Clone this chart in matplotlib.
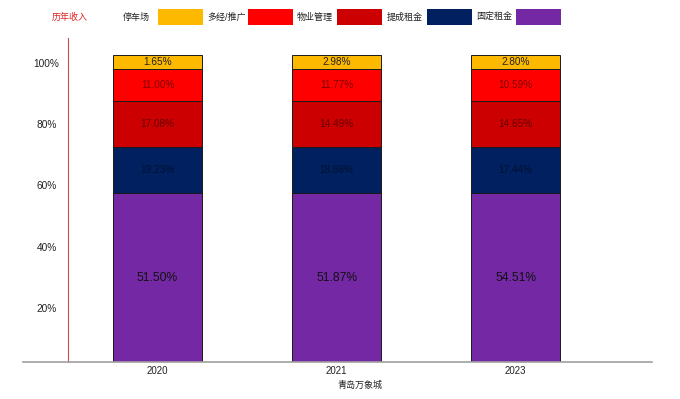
import matplotlib
matplotlib.use('Agg')
import matplotlib.pyplot as plt
from matplotlib.patches import Rectangle

plt.rcParams['font.family'] = ['Liberation Sans', 'Noto Sans CJK SC', 'DejaVu Sans']

# data
years = ['2020', '2021', '2023']
series = ['固定租金', '提成租金', '物业管理', '多经/推广', '停车场']   # bottom -> top
colors = ['#7428A4', '#002060', '#CC0000', '#FF0000', '#FDB900']
# segment heights as drawn in the picture (same for every year)
shown = [54.9, 15.2, 14.9, 10.3, 4.7]
# the printed percentages
guding = [51.50, 51.87, 54.51]
ticheng = [19.23, 18.88, 17.44]
wuye = [17.08, 14.49, 14.65]
duojing = [11.00, 11.77, 10.59]
parking = [1.65, 2.98, 2.80]
labels = [guding, ticheng, wuye, duojing, parking]
yticks = [17.5, 37.5, 57.5, 77.5, 97.5]
yticklabels = ['20%', '40%', '60%', '80%', '100%']

W, H = 680, 399
fig = plt.figure(figsize=(W / 100, H / 100), dpi=100)
ax = fig.add_axes([68 / W, 1 - 362 / H, (652 - 68) / W, (362 - 38) / H])

x = range(len(years))
bottom = [0.0] * len(years)
for k in range(len(series)):
    h = [shown[k]] * len(years)
    ax.bar(x, h, 0.5, bottom=bottom, color=colors[k], edgecolor='#1a1a1a', linewidth=0.7, zorder=2)
    for i in range(len(years)):
        yc = bottom[i] + h[i] / 2
        if k == 0:
            ax.text(i, yc, '%.2f%%' % labels[k][i], ha='center', va='center', fontsize=8.7, color='#111111', zorder=3)
        elif k == 4:
            ax.text(i, yc, '%.2f%%' % labels[k][i], ha='center', va='center', fontsize=7.2, color='#222222', zorder=3)
        else:
            ax.text(i, yc, '%.2f%%' % labels[k][i], ha='center', va='center', fontsize=7.2, color='black', alpha=0.5, zorder=3)
    bottom = [bottom[i] + h[i] for i in range(len(years))]

ax.set_xlim(-0.5, 2.761)
ax.set_ylim(0, 105.5)
ax.set_xticks(list(x))
ax.set_xticklabels(years)
ax.set_yticks(yticks)
ax.set_yticklabels(yticklabels)
ax.tick_params(axis='x', length=0, pad=3, labelsize=7, labelcolor='#222222')
ax.tick_params(axis='y', length=0, pad=15.5, labelsize=7.3, labelcolor='#222222')
for t in ax.get_yticklabels():
    t.set_horizontalalignment('center')
ax.set_xlabel('青岛万象城', fontsize=6.5, color='#222222', labelpad=3)

for s in ['top', 'right']:
    ax.spines[s].set_visible(False)
ax.spines['left'].set_color('#c0504d')
ax.spines['left'].set_linewidth(0.8)
ax.spines['bottom'].set_visible(False)
# grey base line reaching past the red axis
ax.axhline(0, xmin=-(68 - 23) / (652 - 68), xmax=1, color='#a0a0a0', linewidth=1.2, clip_on=False, zorder=4)

# legend drawn by hand at the top
fig.text(52 / W, 1 - 17 / H, '历年收入', color='#e02020', fontsize=6.5, ha='left', va='center')
legend_order = [4, 3, 2, 1, 0]
text_x = [123, 207, 297, 387, 476]
for j, k in enumerate(legend_order):
    bx = 158 + 89.5 * j
    fig.text(text_x[j] / W, 1 - 17 / H, series[k], color='#222222', fontsize=6.5, ha='left', va='center')
    fig.patches.append(Rectangle((bx / W, 1 - 24.5 / H), 45 / W, 15 / H, transform=fig.transFigure,
                                 facecolor=colors[k], edgecolor='none'))

fig.savefig('out.png', dpi=100)
